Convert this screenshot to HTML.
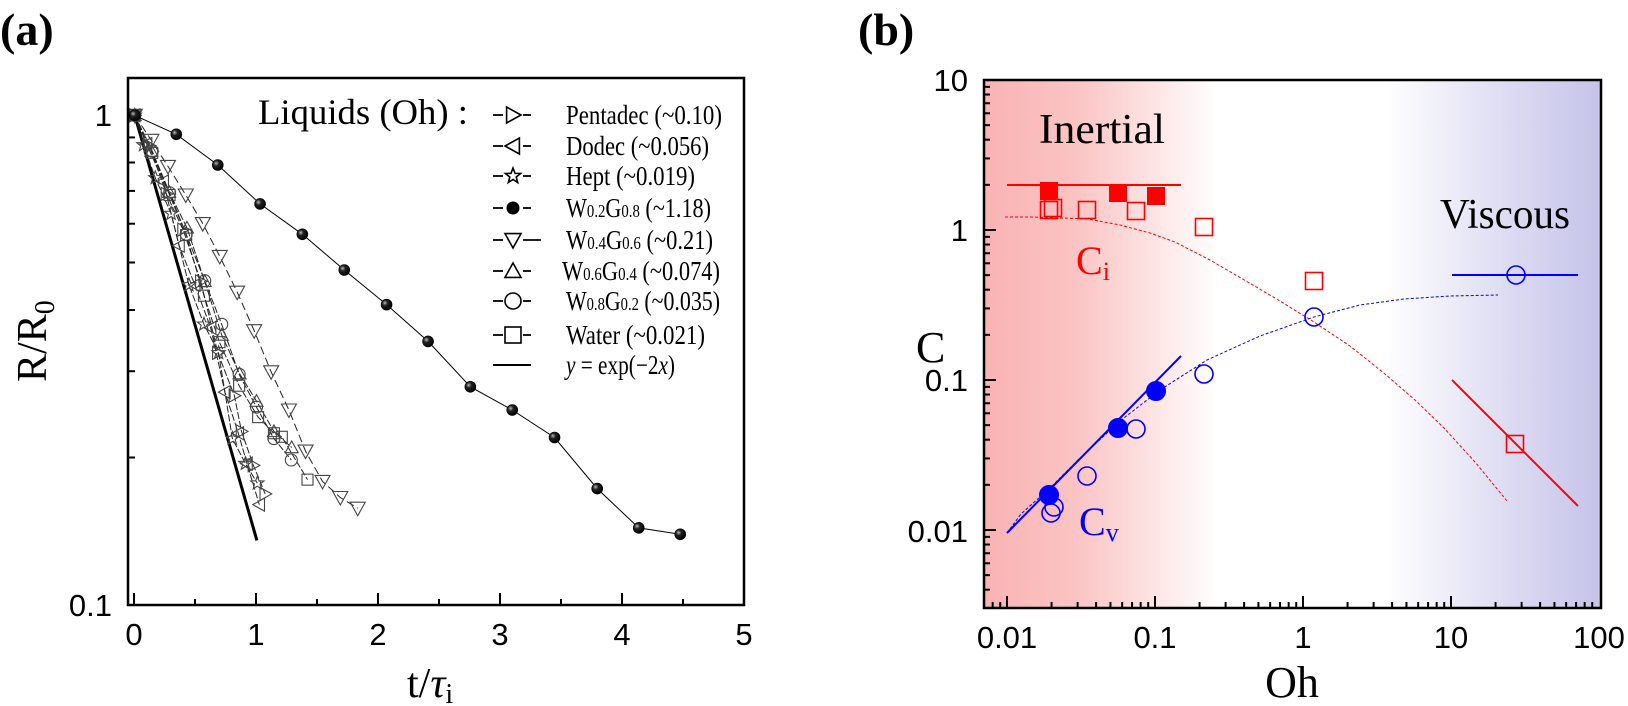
<!DOCTYPE html>
<html><head><meta charset="utf-8">
<style>
html,body{margin:0;padding:0;background:#fff;}
svg{display:block;}
.tk{font-family:"Liberation Sans",sans-serif;font-size:31px;fill:#000;}
.sf{font-family:"Liberation Serif",serif;fill:#000;}
</style></head>
<body>
<svg id="s" width="1628" height="706" viewBox="0 0 1628 706" xmlns="http://www.w3.org/2000/svg">
<defs>
<linearGradient id="bg" x1="984" x2="1601" y1="0" y2="0" gradientUnits="userSpaceOnUse">
<stop offset="0" stop-color="#f9b3b3"/>
<stop offset="0.15" stop-color="#fbc4c4"/>
<stop offset="0.38" stop-color="#ffffff"/>
<stop offset="0.65" stop-color="#ffffff"/>
<stop offset="0.85" stop-color="#dddbf2"/>
<stop offset="1" stop-color="#c5c3e9"/>
</linearGradient>
<radialGradient id="ball" cx="0.35" cy="0.35" r="0.7">
<stop offset="0" stop-color="#bbb"/>
<stop offset="0.35" stop-color="#222"/>
<stop offset="1" stop-color="#000"/>
</radialGradient>
</defs>

<text class="sf" x="0" y="45" font-size="46" font-weight="bold">(a)</text>
<text class="sf" x="858" y="45" font-size="46" font-weight="bold">(b)</text>

<rect x="984" y="80" width="617" height="528" fill="url(#bg)"/>

<g id="ga"></g>
<g id="gb"></g>

<rect x="128" y="78" width="616" height="527" fill="none" stroke="#000" stroke-width="2.5"/>
<rect x="984" y="80" width="617" height="528" fill="none" stroke="#000" stroke-width="2.5"/>

<text class="tk" x="112" y="126" text-anchor="end">1</text>
<text class="tk" x="112" y="616" text-anchor="end">0.1</text>
<text class="tk" x="134" y="645" text-anchor="middle">0</text>
<text class="tk" x="256" y="645" text-anchor="middle">1</text>
<text class="tk" x="378" y="645" text-anchor="middle">2</text>
<text class="tk" x="500" y="645" text-anchor="middle">3</text>
<text class="tk" x="622" y="645" text-anchor="middle">4</text>
<text class="tk" x="744" y="645" text-anchor="middle">5</text>

<text class="sf" font-size="42" transform="translate(46,382) rotate(-90)">R/R<tspan font-size="28" dy="8">0</tspan></text>
<text class="sf" x="407" y="697" font-size="42">t/<tspan font-style="italic">τ</tspan><tspan font-size="28" dy="6">i</tspan></text>

<text class="sf" x="258" y="124" font-size="36" textLength="210" lengthAdjust="spacingAndGlyphs">Liquids (Oh) :</text>
<g class="sf" font-size="27">
<text x="566" y="124" textLength="156" lengthAdjust="spacingAndGlyphs">Pentadec (~0.10)</text>
<text x="566" y="155" textLength="143" lengthAdjust="spacingAndGlyphs">Dodec (~0.056)</text>
<text x="566" y="185" textLength="129" lengthAdjust="spacingAndGlyphs">Hept (~0.019)</text>
<text x="566" y="217" textLength="145" lengthAdjust="spacingAndGlyphs">W<tspan font-size="18">0.2</tspan>G<tspan font-size="18">0.8</tspan> (~1.18)</text>
<text x="566" y="249" textLength="147" lengthAdjust="spacingAndGlyphs">W<tspan font-size="18">0.4</tspan>G<tspan font-size="18">0.6</tspan> (~0.21)</text>
<text x="562" y="280" textLength="158" lengthAdjust="spacingAndGlyphs">W<tspan font-size="18">0.6</tspan>G<tspan font-size="18">0.4</tspan> (~0.074)</text>
<text x="566" y="310" textLength="154" lengthAdjust="spacingAndGlyphs">W<tspan font-size="18">0.8</tspan>G<tspan font-size="18">0.2</tspan> (~0.035)</text>
<text x="566" y="344" textLength="139" lengthAdjust="spacingAndGlyphs">Water (~0.021)</text>
<text x="566" y="374" textLength="109" lengthAdjust="spacingAndGlyphs"><tspan font-style="italic">y</tspan> = exp(−2<tspan font-style="italic">x</tspan>)</text>
</g>

<text class="tk" x="968" y="91" text-anchor="end">10</text>
<text class="tk" x="968" y="241" text-anchor="end">1</text>
<text class="tk" x="968" y="391" text-anchor="end">0.1</text>
<text class="tk" x="968" y="542" text-anchor="end">0.01</text>
<text class="tk" x="1007" y="648" text-anchor="middle">0.01</text>
<text class="tk" x="1155" y="648" text-anchor="middle">0.1</text>
<text class="tk" x="1303" y="648" text-anchor="middle">1</text>
<text class="tk" x="1451" y="648" text-anchor="middle">10</text>
<text class="tk" x="1599" y="648" text-anchor="middle">100</text>

<text class="sf" x="1292" y="697" font-size="44" text-anchor="middle">Oh</text>
<text class="sf" x="916" y="362" font-size="44">C</text>

<text class="sf" x="1039" y="143" font-size="42" textLength="126" lengthAdjust="spacingAndGlyphs">Inertial</text>
<text class="sf" x="1440" y="228" font-size="42" textLength="130" lengthAdjust="spacingAndGlyphs">Viscous</text>
<text class="sf" x="1076" y="274" font-size="40" style="fill:#f00">C<tspan font-size="26" dy="6">i</tspan></text>
<text class="sf" x="1079" y="535" font-size="40" style="fill:#00f">C<tspan font-size="26" dy="6">v</tspan></text>

<script>
(function(){
var NS="http://www.w3.org/2000/svg";
var ga=document.getElementById("ga"), gb=document.getElementById("gb");
function el(p,tag,attrs){var e=document.createElementNS(NS,tag);for(var k in attrs)e.setAttribute(k,attrs[k]);p.appendChild(e);return e;}
function A(z){return [100+z[0]/2.53,60+z[1]/2.8];}
function poly(p,pts,attrs){attrs.points=pts.map(function(q){return q[0].toFixed(1)+","+q[1].toFixed(1)}).join(" ");attrs.fill="none";el(p,"polyline",attrs);}
function marker(p,type,x,y,s,stroke,fill,sw){
 sw=sw||1.2;
 if(type=="c"){el(p,"circle",{cx:x,cy:y,r:s,fill:fill,stroke:stroke,"stroke-width":sw});}
 else if(type=="sq"){el(p,"rect",{x:x-s,y:y-s,width:2*s,height:2*s,fill:fill,stroke:stroke,"stroke-width":sw});}
 else if(type=="td"){el(p,"polygon",{points:(x-s)+","+(y-s*0.8)+" "+(x+s)+","+(y-s*0.8)+" "+x+","+(y+s),fill:fill,stroke:stroke,"stroke-width":sw});}
 else if(type=="tu"){el(p,"polygon",{points:(x-s)+","+(y+s*0.8)+" "+(x+s)+","+(y+s*0.8)+" "+x+","+(y-s),fill:fill,stroke:stroke,"stroke-width":sw});}
 else if(type=="tr"){el(p,"polygon",{points:(x-s*0.8)+","+(y-s)+" "+(x-s*0.8)+","+(y+s)+" "+(x+s)+","+y,fill:fill,stroke:stroke,"stroke-width":sw});}
 else if(type=="tl"){el(p,"polygon",{points:(x+s*0.8)+","+(y-s)+" "+(x+s*0.8)+","+(y+s)+" "+(x-s)+","+y,fill:fill,stroke:stroke,"stroke-width":sw});}
 else if(type=="st"){var pts=[];for(var i=0;i<10;i++){var r=i%2?s*0.42:s;var a=-Math.PI/2+i*Math.PI/5;pts.push((x+r*Math.cos(a)).toFixed(1)+","+(y+r*Math.sin(a)).toFixed(1));}el(p,"polygon",{points:pts.join(" "),fill:fill,stroke:stroke,"stroke-width":sw});}
 else if(type=="ball"){el(p,"circle",{cx:x,cy:y,r:s,fill:"url(#ball)",stroke:"#000","stroke-width":0.6});}
}
for(var t=0;t<=10;t++){var x=134+61*t;var L=(t%2==0)?12:6;if(t<10)el(ga,"line",{x1:x,y1:605,x2:x,y2:605-L,stroke:"#000","stroke-width":2});}
el(ga,"line",{x1:128,y1:115,x2:140,y2:115,stroke:"#000","stroke-width":2});
for(var v=2;v<=9;v++){var y=115-490*Math.log10(v/10);el(ga,"line",{x1:128,y1:y,x2:135,y2:y,stroke:"#000","stroke-width":2});}
var S={
 pent:[[88,155],[125,240],[168,375],[210,475],[255,620],[298,820],[340,940],[358,1040],[388,1135],[418,1215]],
 dod:[[88,155],[118,235],[160,340],[200,520],[240,630],[280,750],[316,930],[350,1045],[372,1130],[403,1245]],
 hept:[[88,155],[110,238],[140,330],[180,430],[225,630],[263,740],[300,820],[335,1060],[368,1130],[398,1185]],
 tu:[[88,155],[130,255],[175,370],[220,470],[265,620],[308,770],[353,878],[396,955],[440,1040],[485,1085]],
 ci:[[88,155],[132,255],[176,372],[218,488],[265,618],[308,740],[352,880],[396,972],[440,1060],[484,1120]],
 wat:[[88,155],[132,260],[176,378],[218,490],[263,660],[302,790],[352,912],[400,1000],[440,1045],[460,1055],[525,1175]],
 td:[[88,155],[130,225],[172,298],[217,378],[260,458],[303,550],[347,650],[390,758],[433,873],[478,980],[520,1095],[563,1180],[608,1225],[652,1255]],
 ball:[[88,155],[193,208],[298,294],[405,403],[512,488],[618,588],[725,685],[830,788],[937,915],[1043,980],[1150,1057],[1258,1200],[1363,1310],[1468,1328]]
};
var types={pent:"tr",dod:"tl",hept:"st",tu:"tu",ci:"c",wat:"sq",td:"td"};
var sizes={pent:6.5,dod:6.5,hept:7,tu:6.5,ci:6,wat:5.5,td:7.5};
poly(ga,[A([88,155]),A([397,1345])],{stroke:"#000","stroke-width":3});
["pent","dod","hept","tu","ci","wat","td"].forEach(function(k){
 poly(ga,S[k].map(A),{stroke:"#222","stroke-width":1,"stroke-dasharray":(k=="td"?"8,4":"7,2")});
});
["pent","dod","hept","tu","ci","wat","td"].forEach(function(k){
 S[k].map(A).forEach(function(q){marker(ga,types[k],q[0],q[1],sizes[k],"#444","none",1.1);});
});
var bp=S.ball.map(A);
poly(ga,bp,{stroke:"#000","stroke-width":1});
bp.forEach(function(q){marker(ga,"ball",q[0],q[1],5.5);});
var ly=[115,146,176,208,240,271,301,335,365];
var lt=["tr","tl","st","ball","td","tu","c","sq","line"];
for(var i=0;i<9;i++){
 var y=ly[i];
 if(lt[i]=="line"){el(ga,"line",{x1:493,y1:y,x2:531,y2:y,stroke:"#000","stroke-width":2});continue;}
 el(ga,"line",{x1:493,y1:y,x2:503,y2:y,stroke:"#000","stroke-width":1.8});
 el(ga,"line",{x1:523,y1:y,x2:(i==4?541:531),y2:y,stroke:"#000","stroke-width":1.8});
 if(lt[i]=="ball")el(ga,"circle",{cx:513,cy:y,r:6.5,fill:"#000"});
 else marker(ga,lt[i],513,y,8,"#000","#fff",1.6);
}
function X(o){return 1007+148*(Math.log10(o)+2);}
function Y(c){return 230-150*Math.log10(c);}
for(var d=-3;d<=1;d++){for(var m=1;m<=9;m++){var v=m*Math.pow(10,d);var y=Y(v);if(y<81||y>607)continue;var L=(m==1)?12:6;el(gb,"line",{x1:984,y1:y,x2:984+L,y2:y,stroke:"#000","stroke-width":2});}}
for(var d=-3;d<=1;d++){for(var m=1;m<=9;m++){var v=m*Math.pow(10,d);var x=X(v);if(x<985||x>1600)continue;var L=(m==1)?12:6;el(gb,"line",{x1:x,y1:608,x2:x,y2:608-L,stroke:"#000","stroke-width":2});}}
var red="#f00",blue="#00f";
poly(gb,[[1005,217],[1030,217],[1060,218],[1088,219],[1120,225],[1150,233],[1175,242],[1210,260],[1246,281],[1280,301],[1314,322],[1350,346],[1385,374],[1415,400],[1444,428],[1475,462],[1507,501]],{stroke:red,"stroke-width":1,"stroke-dasharray":"3,2"});
poly(gb,[[1007,533],[1021,514],[1050,488],[1080,458],[1120,421],[1160,390],[1207,360],[1260,336],[1314,317],[1360,305],[1404,299],[1450,296],[1498,295]],{stroke:blue,"stroke-width":1,"stroke-dasharray":"3,2"});
el(gb,"line",{x1:1007,y1:185,x2:1181,y2:185,stroke:red,"stroke-width":2});
el(gb,"line",{x1:1452,y1:380,x2:1578,y2:506,stroke:red,"stroke-width":2});
el(gb,"line",{x1:1007,y1:533,x2:1181,y2:356,stroke:blue,"stroke-width":2});
el(gb,"line",{x1:1452,y1:275,x2:1578,y2:275,stroke:blue,"stroke-width":2});
[[1049,191],[1118,193],[1156,196]].forEach(function(q){marker(gb,"sq",q[0],q[1],8.5,red,red,1);});
[[1049,210],[1053,208],[1087,210],[1136,211],[1204,227],[1314,281],[1515,444]].forEach(function(q){marker(gb,"sq",q[0],q[1],8.5,red,"none",1.6);});
[[1051,513],[1054,507],[1087,476],[1136,429],[1204,374],[1314,317],[1516,275]].forEach(function(q){marker(gb,"c",q[0],q[1],9,blue,"none",1.6);});
[[1049,495],[1118,428],[1156,391]].forEach(function(q){marker(gb,"c",q[0],q[1],9.5,blue,blue,1);});
})();
</script>
</svg>
</body></html>
